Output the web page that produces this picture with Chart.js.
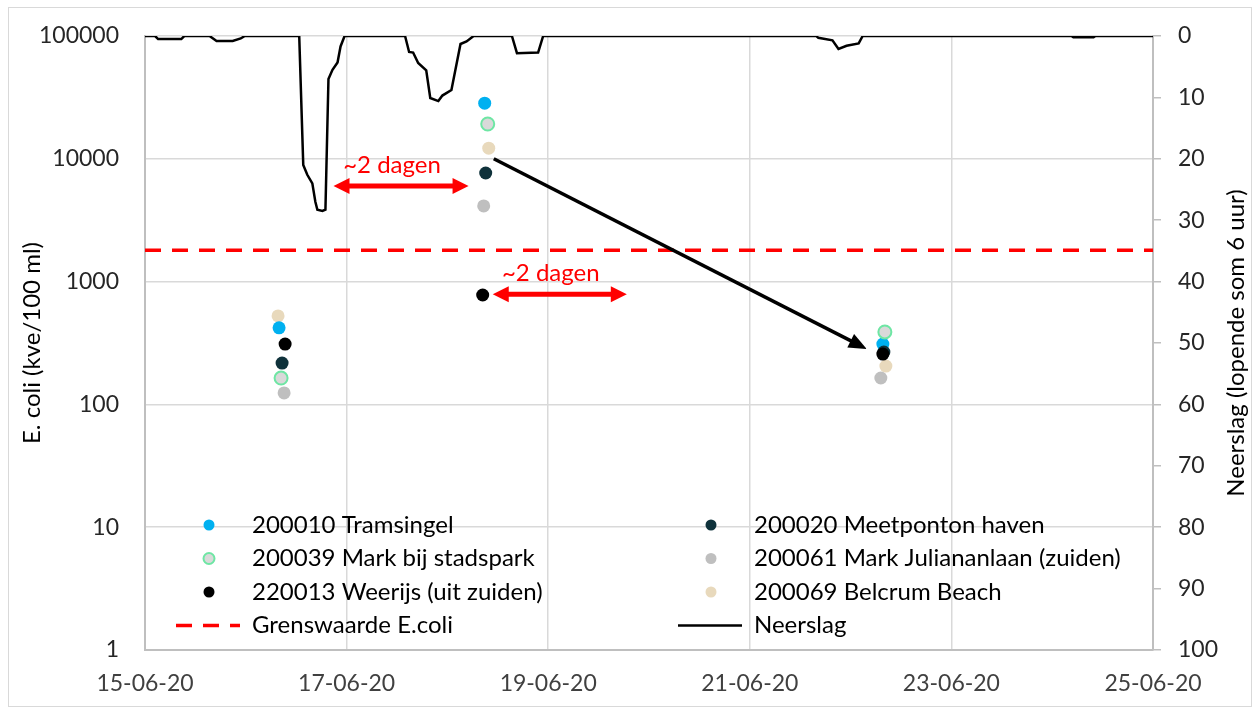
<!DOCTYPE html>
<html>
<head>
<meta charset="utf-8">
<title>E. coli en neerslag</title>
<script src="https://cdn.jsdelivr.net/npm/chart.js@4.4.1/dist/chart.umd.min.js"></script>
<style>
  html, body { margin: 0; padding: 0; background: #fff; }
  #wrap { width: 1256px; height: 713px; position: relative; }
</style>
</head>
<body>
<div id="wrap"><canvas id="ecoliChart" width="1256" height="713"></canvas></div>
<script>
// x-as: dagen sinds 15-06-20
const xTickDays = [0, 2, 4, 6, 8, 10];
const xTickLabels = ["15-06-20", "17-06-20", "19-06-20", "21-06-20", "23-06-20", "25-06-20"];
const yTicks = [1, 10, 100, 1000, 10000, 100000];

// meetpunten (dag, kve/100 ml)
const tramsingelDays = [1.33, 3.37, 7.32];
const tramsingelValues = [420, 28400, 310];
const meetpontonDays = [1.36, 3.38, 7.33];
const meetpontonValues = [217, 7660, 267];
const stadsparkDays = [1.35, 3.40, 7.34];
const stadsparkValues = [164, 19200, 389];
const julianalaanDays = [1.38, 3.36, 7.30];
const julianalaanValues = [124, 4130, 164];
const weerijsDays = [1.39, 3.35, 7.32];
const weerijsValues = [310, 778, 257];
const belcrumDays = [1.32, 3.41, 7.35];
const belcrumValues = [525, 12200, 205];

const grenswaarde = 1800;

// neerslag, lopende som 6 uur
const neerslagDays = [0, 0.10, 0.13, 0.36, 0.39, 0.64, 0.71, 0.87, 0.95, 0.99,
    1.53, 1.57, 1.61, 1.66, 1.69, 1.71, 1.76, 1.79, 1.82, 1.86, 1.91, 1.94, 1.98,
    2.58, 2.62, 2.66, 2.71, 2.79, 2.83, 2.91, 2.95, 3.04, 3.13, 3.19, 3.26,
    3.64, 3.69, 3.90, 3.95,
    6.66, 6.68, 6.82, 6.88, 6.96, 7.08, 7.12,
    9.19, 9.21, 9.41, 9.43, 10];
const neerslagValues = [0, 0, 0.5, 0.5, 0, 0, 0.8, 0.8, 0.4, 0,
    0, 21, 22.6, 24, 27, 28.3, 28.5, 28.3, 7, 5.5, 4.3, 1.7, 0,
    0, 2.6, 2.7, 4.4, 5.6, 10.1, 10.6, 9.7, 8.8, 1.3, 0.9, 0,
    0, 2.8, 2.7, 0,
    0, 0.3, 0.7, 2.1, 1.6, 1.2, 0,
    0, 0.2, 0.2, 0, 0];

// annotaties
const dagenPijlStart = [1.87, 3.45];
const dagenPijlEind = [3.21, 4.78];
const dagenPijlWaarde = [6000, 790];
const dagenTekst = "~2 dagen";
const trendStart = [3.46, 10000];
const trendEind = [7.16, 283];

const rightTitle = "Neerslag (lopende som 6 uur)";
const baseFont = "Lato, 'Open Sans', sans-serif";

function toPoints(days, values) {
    return days.map((d, i) => ({ x: d, y: values[i] }));
}

function scatterSet(label, days, values, fill, border, order) {
    return {
        type: "scatter",
        label: label,
        data: toPoints(days, values),
        backgroundColor: fill,
        borderColor: border || fill,
        borderWidth: border ? 2 : 0,
        pointRadius: 6.5,
        yAxisID: "y",
        order: order
    };
}

function drawArrow(ctx, x1, y1, x2, y2, color, width, headLen, headW, both) {
    const ang = Math.atan2(y2 - y1, x2 - x1);
    const ux = Math.cos(ang), uy = Math.sin(ang);
    ctx.save();
    ctx.strokeStyle = color;
    ctx.fillStyle = color;
    ctx.lineWidth = width;
    ctx.beginPath();
    ctx.moveTo(both ? x1 + ux * headLen * 0.8 : x1, both ? y1 + uy * headLen * 0.8 : y1);
    ctx.lineTo(x2 - ux * headLen * 0.8, y2 - uy * headLen * 0.8);
    ctx.stroke();
    const head = (tx, ty, dx, dy) => {
        ctx.beginPath();
        ctx.moveTo(tx, ty);
        ctx.lineTo(tx - dx * headLen - dy * headW / 2, ty - dy * headLen + dx * headW / 2);
        ctx.lineTo(tx - dx * headLen + dy * headW / 2, ty - dy * headLen - dx * headW / 2);
        ctx.closePath();
        ctx.fill();
    };
    head(x2, y2, ux, uy);
    if (both) head(x1, y1, -ux, -uy);
    ctx.restore();
}

// geen extra ruimte voor half uitstekende labels; de plotgrenzen liggen vast
function noScalePadding(s) {
    s.paddingTop = 0;
    s.paddingBottom = 0;
}

// pijlen, tekst, rechtertitel, legenda en kader
const extrasPlugin = {
    id: "extras",
    afterDatasetsDraw(chart) {
        const { ctx, scales, chartArea } = chart;
        const x = scales.x, y = scales.y;

        ctx.save();
        ctx.font = "24px " + baseFont;
        ctx.textAlign = "center";
        ctx.textBaseline = "middle";
        for (let i = 0; i < dagenPijlStart.length; i++) {
            const xa = x.getPixelForValue(dagenPijlStart[i]);
            const xb = x.getPixelForValue(dagenPijlEind[i]);
            const ya = y.getPixelForValue(dagenPijlWaarde[i]);
            drawArrow(ctx, xa, ya, xb, ya, "#FF0000", 5, 16, 16, true);
            ctx.fillStyle = "#FF0000";
            ctx.fillText(dagenTekst, (xa + xb) / 2 - 9, ya - 21);
        }
        drawArrow(ctx,
            x.getPixelForValue(trendStart[0]), y.getPixelForValue(trendStart[1]),
            x.getPixelForValue(trendEind[0]), y.getPixelForValue(trendEind[1]),
            "#000000", 3.5, 18, 15, false);
        ctx.restore();

        // legenda
        ctx.save();
        ctx.font = "24px " + baseFont;
        ctx.textBaseline = "middle";
        ctx.textAlign = "left";
        chart.data.datasets.forEach((ds, i) => {
            const col = i % 2, row = Math.floor(i / 2);
            const mx = chartArea.left + 64 + col * 502;
            const my = chartArea.top + 489 + row * 33.5;
            if (ds.type === "scatter") {
                ctx.beginPath();
                ctx.arc(mx, my, 5.5, 0, Math.PI * 2);
                ctx.fillStyle = ds.backgroundColor;
                ctx.fill();
                if (ds.borderWidth) {
                    ctx.lineWidth = 2;
                    ctx.strokeStyle = ds.borderColor;
                    ctx.stroke();
                }
            } else {
                ctx.beginPath();
                ctx.setLineDash(ds.borderDash || []);
                ctx.lineWidth = ds.borderWidth;
                ctx.strokeStyle = ds.borderColor;
                ctx.moveTo(mx - 33, my);
                ctx.lineTo(mx + 31, my);
                ctx.stroke();
                ctx.setLineDash([]);
            }
            ctx.fillStyle = "#000000";
            ctx.fillText(ds.label, mx + 43, my);
        });
        ctx.restore();

        // rechter astitel, van onder naar boven
        const r = scales.y2;
        ctx.save();
        ctx.font = "24px " + baseFont;
        ctx.fillStyle = "#000000";
        ctx.textAlign = "center";
        ctx.textBaseline = "middle";
        ctx.translate(r.right - 20, (chartArea.top + chartArea.bottom) / 2);
        ctx.rotate(-Math.PI / 2);
        ctx.fillText(rightTitle, 0, 0);
        ctx.restore();

        // kader
        ctx.save();
        ctx.strokeStyle = "#D9D9D9";
        ctx.lineWidth = 1;
        ctx.strokeRect(8.5, 7.5, 1243, 699);
        ctx.restore();
    }
};

const ctx = document.getElementById("ecoliChart").getContext("2d");

new Chart(ctx, {
    type: "scatter",
    data: {
        datasets: [
            scatterSet("200010 Tramsingel", tramsingelDays, tramsingelValues, "#00B0F0", null, 3),
            scatterSet("200020 Meetponton haven", meetpontonDays, meetpontonValues, "#0F323B", null, 2),
            scatterSet("200039 Mark bij stadspark", stadsparkDays, stadsparkValues, "#D9D9D9", "#6EE6A4", 1),
            scatterSet("200061 Mark Juliananlaan (zuiden)", julianalaanDays, julianalaanValues, "#BFBFBF", null, 4),
            scatterSet("220013 Weerijs (uit zuiden)", weerijsDays, weerijsValues, "#000000", null, 0),
            scatterSet("200069 Belcrum Beach", belcrumDays, belcrumValues, "#E8D9BC", null, 5),
            {
                type: "line",
                label: "Grenswaarde E.coli",
                data: [{ x: xTickDays[0], y: grenswaarde }, { x: xTickDays[xTickDays.length - 1], y: grenswaarde }],
                borderColor: "#FF0000",
                borderWidth: 3.5,
                borderDash: [16, 11],
                pointRadius: 0,
                yAxisID: "y",
                order: 7
            },
            {
                type: "line",
                label: "Neerslag",
                data: toPoints(neerslagDays, neerslagValues),
                borderColor: "#000000",
                borderWidth: 2.5,
                pointRadius: 0,
                tension: 0,
                yAxisID: "y2",
                order: 6
            }
        ]
    },
    options: {
        responsive: false,
        animation: false,
        devicePixelRatio: 1,
        layout: { padding: { top: 36, left: 0, right: 0, bottom: 0 } },
        plugins: {
            legend: { display: false },
            tooltip: { enabled: false }
        },
        scales: {
            x: {
                type: "linear",
                min: xTickDays[0],
                max: xTickDays[xTickDays.length - 1],
                afterBuildTicks: s => { s.ticks = xTickDays.map(v => ({ value: v })); },
                afterFit: s => { s.height = 63; s.paddingLeft = 0; s.paddingRight = 0; },
                ticks: {
                    callback: v => xTickLabels[xTickDays.indexOf(v)],
                    font: { family: baseFont, size: 23 },
                    color: "#404040",
                    padding: 20,
                    maxRotation: 0,
                    autoSkip: false
                },
                grid: { color: "#D9D9D9", lineWidth: 1.5, drawTicks: false },
                border: { color: "#BFBFBF", width: 2 }
            },
            y: {
                type: "logarithmic",
                position: "left",
                min: yTicks[0],
                max: yTicks[yTicks.length - 1],
                afterBuildTicks: s => { s.ticks = yTicks.map(v => ({ value: v })); },
                afterFit: s => { s.width = 145; noScalePadding(s); },
                ticks: {
                    callback: v => String(v),
                    font: { family: baseFont, size: 23 },
                    color: "#262626",
                    padding: 26
                },
                title: {
                    display: true,
                    text: "E. coli (kve/100 ml)",
                    font: { family: baseFont, size: 24 },
                    color: "#000000",
                    padding: { top: 18, bottom: 0 }
                },
                grid: { color: "#D9D9D9", lineWidth: 1.5, drawTicks: false },
                border: { color: "#BFBFBF", width: 2 }
            },
            y2: {
                type: "linear",
                position: "right",
                reverse: true,
                min: 0,
                max: 100,
                afterFit: s => { s.width = 103; noScalePadding(s); },
                ticks: {
                    stepSize: 10,
                    font: { family: baseFont, size: 23 },
                    color: "#262626",
                    padding: 17
                },
                grid: { drawOnChartArea: false, drawTicks: true, tickLength: 8, color: "#BFBFBF", lineWidth: 1.5 },
                border: { color: "#BFBFBF", width: 2 }
            }
        }
    },
    plugins: [extrasPlugin]
});
</script>
</body>
</html>
